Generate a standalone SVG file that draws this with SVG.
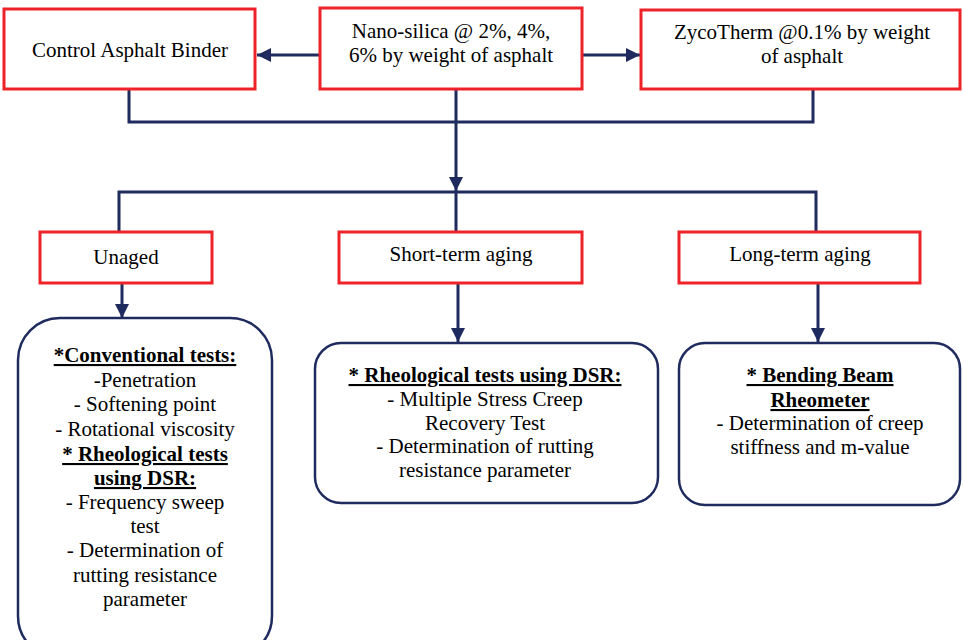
<svg xmlns="http://www.w3.org/2000/svg" width="963" height="640" viewBox="0 0 963 640">
<style>
.rbox{fill:#fff;stroke:#ED2329;stroke-width:3}
.obox{fill:#fff;stroke:#1F2A5E;stroke-width:2.5}
.ln{fill:none;stroke:#1F2A5E;stroke-width:3}
.t{font-family:'Liberation Serif','Times New Roman',serif;font-size:21px;fill:#000;text-anchor:middle}
.b{font-weight:bold;text-decoration:underline}
</style>
<defs>
<marker id="ah" markerUnits="userSpaceOnUse" markerWidth="14" markerHeight="14" viewBox="0 0 14 14" refX="14" refY="7" orient="auto">
<path d="M0,0 L14,7 L0,14 Z" fill="#1F2A5E"/>
</marker>
</defs>
<g id="connectors">
<path class="ln" d="M320,55 L257,55" marker-end="url(#ah)"/>
<path class="ln" d="M582,55 L640,55" marker-end="url(#ah)"/>
<path class="ln" d="M129,89 L129,122 L813,122 L813,89"/>
<path class="ln" d="M456,89 L456,191" marker-end="url(#ah)"/>
<path class="ln" d="M456,192 L456,232"/>
<path class="ln" d="M119,232 L119,192 L816,192 L816,232"/>
<path class="ln" d="M122,283 L122,318" marker-end="url(#ah)"/>
<path class="ln" d="M458,283 L458,342" marker-end="url(#ah)"/>
<path class="ln" d="M818,283 L818,342" marker-end="url(#ah)"/>
</g>
<g id="control">
<rect class="rbox" x="4" y="9" width="251" height="80"/>
<text class="t" x="130" y="57">Control Asphalt Binder</text>
</g>
<g id="nanosilica">
<rect class="rbox" x="320" y="8" width="262" height="81"/>
<text class="t" x="451" y="38">Nano-silica @ 2%, 4%,</text>
<text class="t" x="451" y="62">6% by weight of asphalt</text>
</g>
<g id="zycotherm">
<rect class="rbox" x="641" y="10" width="319" height="79"/>
<text class="t" x="802" y="39">ZycoTherm @0.1% by weight</text>
<text class="t" x="802" y="63">of asphalt</text>
</g>
<g id="unaged">
<rect class="rbox" x="40" y="232" width="172" height="51"/>
<text class="t" x="126" y="264">Unaged</text>
</g>
<g id="shortterm">
<rect class="rbox" x="339" y="232" width="243" height="51"/>
<text class="t" x="461" y="261">Short-term aging</text>
</g>
<g id="longterm">
<rect class="rbox" x="679" y="232" width="241" height="51"/>
<text class="t" x="800" y="261">Long-term aging</text>
</g>
<g id="unagedtests">
<rect class="obox" x="18" y="318" width="254" height="340" rx="42" ry="42"/>
<text class="t b" x="145" y="362">*Conventional tests:</text>
<text class="t" x="145" y="387">-Penetration</text>
<text class="t" x="145" y="411">- Softening point</text>
<text class="t" x="145" y="436">- Rotational viscosity</text>
<text class="t b" x="145" y="461">* Rheological tests</text>
<text class="t b" x="145" y="485">using DSR:</text>
<text class="t" x="145" y="509">- Frequency sweep</text>
<text class="t" x="145" y="533">test</text>
<text class="t" x="145" y="557">- Determination of</text>
<text class="t" x="145" y="582">rutting resistance</text>
<text class="t" x="145" y="606">parameter</text>
</g>
<g id="shorttests">
<rect class="obox" x="315" y="343" width="343" height="160" rx="26" ry="26"/>
<text class="t b" x="485" y="382">* Rheological tests using DSR:</text>
<text class="t" x="485" y="406">- Multiple Stress Creep</text>
<text class="t" x="485" y="430">Recovery Test</text>
<text class="t" x="485" y="453">- Determination of rutting</text>
<text class="t" x="485" y="477">resistance parameter</text>
</g>
<g id="longtests">
<rect class="obox" x="679" y="343" width="281" height="162" rx="26" ry="26"/>
<text class="t b" x="820" y="382">* Bending Beam</text>
<text class="t b" x="820" y="407">Rheometer</text>
<text class="t" x="820" y="430">- Determination of creep</text>
<text class="t" x="820" y="454">stiffness and m-value</text>
</g>
</svg>
